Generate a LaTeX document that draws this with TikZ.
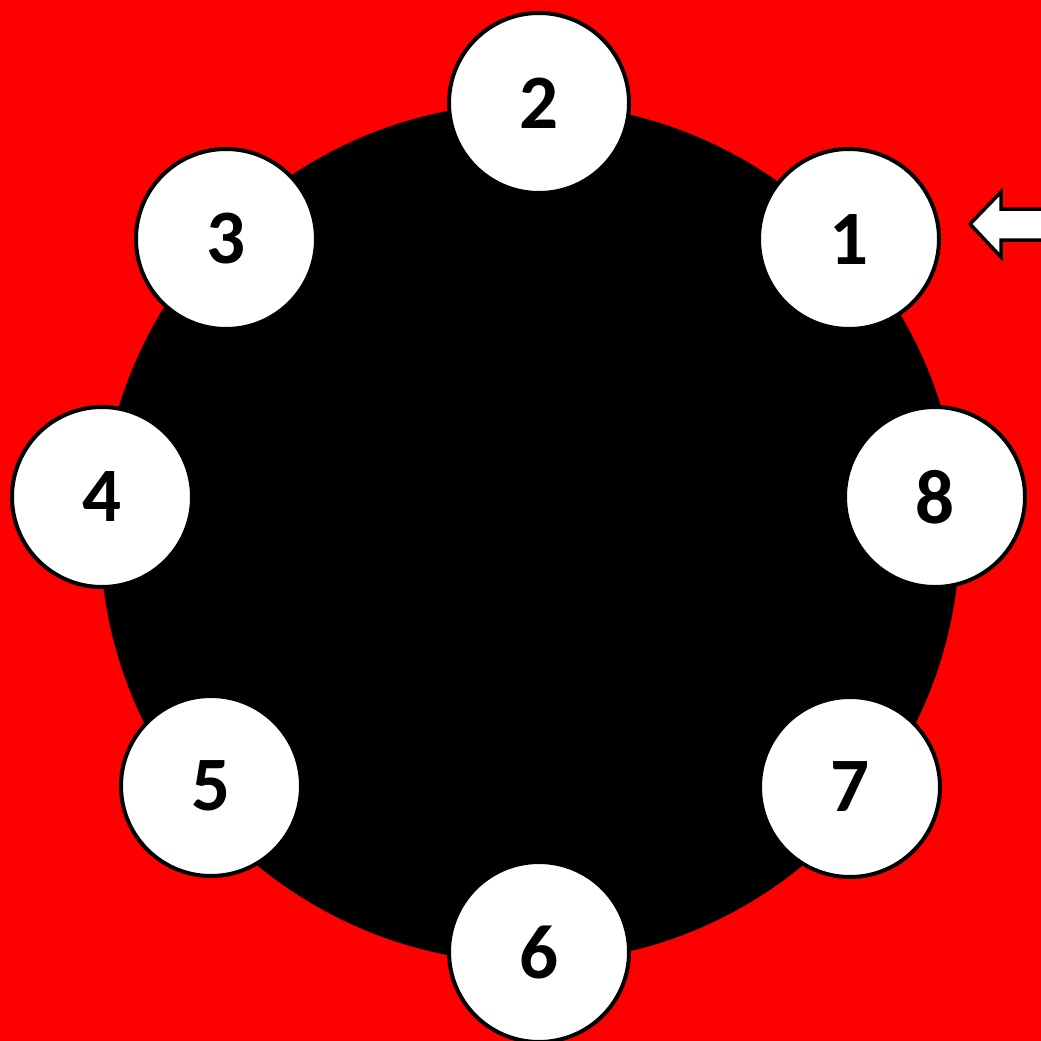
\documentclass[tikz,border=0pt]{standalone}
\usepackage{fontspec}
\setmainfont{Carlito}
\definecolor{bgred}{RGB}{255,0,0}
\begin{document}
\begin{tikzpicture}[x=1pt,y=-1pt,
  seat/.style={circle,draw=black,fill=white,line width=4pt,minimum size=180pt,inner sep=0pt,font=\fontsize{77}{77}\selectfont\bfseries},
  pointer/.style={draw=black,fill=white,line width=3.5pt,line join=miter}]
\fill[bgred] (0,0) rectangle (1041,1041);
\useasboundingbox (0,0) rectangle (1041,1041);
\node[circle,fill=black,minimum size=860pt,inner sep=0pt] (table) at (530,533) {};
\node[seat] (s1) at (849,239) {1};
\node[seat] (s2) at (539,103) {2};
\node[seat] (s3) at (226,239) {3};
\node[seat] (s4) at (102,497) {4};
\node[seat] (s5) at (211,786) {5};
\node[seat] (s6) at (539,952) {6};
\node[seat] (s7) at (850,787) {7};
\node[seat] (s8) at (935,497) {8};
\coordinate (tip) at (970,224);
\draw[pointer] (tip) -- (1001,192) -- (1001,209) -- (1050,209) -- (1050,240) -- (1001,240) -- (1001,257) -- cycle;
\end{tikzpicture}
\end{document}
